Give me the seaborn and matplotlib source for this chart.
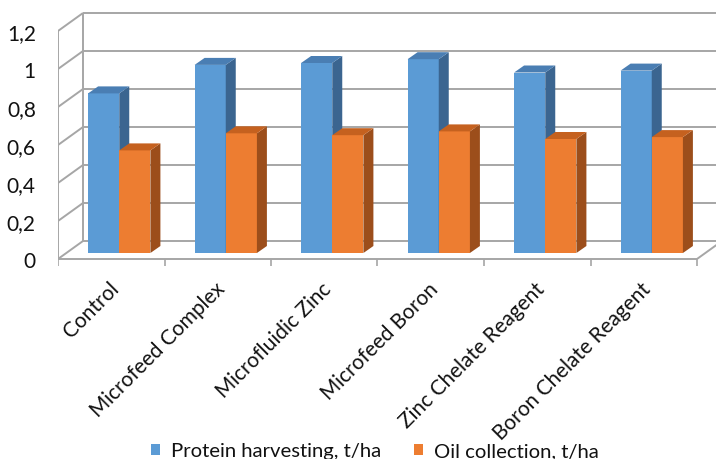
import matplotlib
matplotlib.use("Agg")
import numpy as np
import pandas as pd
import matplotlib.pyplot as plt
import seaborn as sns
from matplotlib.patches import Polygon
from matplotlib.transforms import Affine2D

# ---- data ----
treatments = ["Control", "Microfeed Complex", "Microfluidic Zinc",
              "Microfeed Boron", "Zinc Chelate Reagent", "Boron Chelate Reagent"]
protein = [0.84, 0.99, 1.00, 1.02, 0.95, 0.96]
oil = [0.54, 0.63, 0.62, 0.64, 0.60, 0.61]
series_names = ["Protein harvesting, t/ha", "Oil collection, t/ha"]
y_ticks = [0, 0.2, 0.4, 0.6, 0.8, 1.0, 1.2]
y_tick_labels = ["0", "0,2", "0,4", "0,6", "0,8", "1", "1,2"]

df = pd.DataFrame({
    "treatment": treatments * 2,
    "series": [series_names[0]] * len(protein) + [series_names[1]] * len(oil),
    "value": protein + oil,
})

# ---- style ----
sns.set_theme(style="white")
plt.rcParams["font.family"] = ["Lato", "DejaVu Sans"]

FRONT = ["#5B9BD5", "#ED7D31"]
TOP = ["#4A7EB3", "#C5611F"]
SIDE = ["#3B6590", "#9C4E1B"]
GRID = "#A6A6A6"
TEXT = "#111111"

# ---- geometry (pixels at 100 dpi) ----
W, H = 716, 460
X0 = 58          # left edge of the front floor
CAT = 106.5      # width of one category
Y0 = 260         # front floor line
UNIT = 190       # pixels per 1.0 on the value axis
AX_BOTTOM = 275
WALL = (25, 18)  # back-wall offset (right, up)
BAR_SHIFT = (8, 6)   # front face of bars relative to the front plane
BAR_DEPTH = (10, 7)  # bar depth

fig = plt.figure(figsize=(W / 100, H / 100), dpi=100)
ax = fig.add_axes([X0 / W, (H - AX_BOTTOM) / H, (W - X0) / W, AX_BOTTOM / H])
ax.set_facecolor("none")

sns.barplot(data=df, x="treatment", y="value", hue="series",
            palette=FRONT, saturation=1, width=0.585, gap=0,
            errorbar=None, linewidth=0, ax=ax)

ax.set_xlim(-0.5, -0.5 + (W - X0) / CAT)
ax.set_ylim(-(AX_BOTTOM - Y0) / UNIT, Y0 / UNIT)


def dx(p):
    return p / CAT


def dy(p):
    return p / UNIT


# ---- walls and grid ----
n = len(treatments)
left, right = -0.5, n - 0.5
wx, wy = dx(WALL[0]), dy(WALL[1])
x_end = ax.get_xlim()[1]
line_kw = dict(color=GRID, lw=1.4, solid_capstyle="butt", zorder=1)
for t in y_ticks:
    ax.plot([left, left + wx], [t, t + wy], **line_kw)
    ax.plot([left + wx, x_end], [t + wy, t + wy], **line_kw)
ax.plot([left, left], [0, y_ticks[-1]], **line_kw)
ax.plot([left + wx, left + wx], [wy, y_ticks[-1] + wy], **line_kw)
ax.plot([left, right], [0, 0], **line_kw)
ax.plot([right, right + wx], [0, wy], **line_kw)
ax.vlines(np.arange(left, right + 0.01), -dy(7), 0, color=GRID, lw=1.2, zorder=1)

# ---- 3D bar faces ----
bx, by = dx(BAR_DEPTH[0]), dy(BAR_DEPTH[1])
for k, cont in enumerate(ax.containers):
    tr = ax.transData + Affine2D().translate(*BAR_SHIFT)
    for bar in cont:
        x0, w, h = bar.get_x(), bar.get_width(), bar.get_height()
        bar.set_transform(tr)
        bar.set_zorder(3 + 2 * k)
        side = Polygon([(x0 + w, 0), (x0 + w, h), (x0 + w + bx, h + by), (x0 + w + bx, by)],
                       closed=True, transform=tr, facecolor=SIDE[k],
                       edgecolor="none", zorder=3.5 + 2 * k)
        top = Polygon([(x0, h), (x0 + w, h), (x0 + w + bx, h + by), (x0 + bx, h + by)],
                      closed=True, transform=tr, facecolor=TOP[k],
                      edgecolor="none", zorder=3.5 + 2 * k)
        ax.add_patch(side)
        ax.add_patch(top)

# ---- axes text ----
for s in ax.spines.values():
    s.set_visible(False)
ax.set_xlabel("")
ax.set_ylabel("")
ax.set_yticks(y_ticks)
ax.set_yticklabels(y_tick_labels)
ax.tick_params(axis="y", length=0, pad=16, labelsize=15, labelcolor=TEXT)
ax.set_xticks([])

label_tr = ax.transData + Affine2D().translate(-3, -19)
for i, name in enumerate(treatments):
    ax.text(i, 0, name, transform=label_tr, rotation=45, rotation_mode="anchor",
            ha="right", va="top", fontsize=15, color=TEXT)

sns.move_legend(ax, "center", bbox_to_anchor=(375 / W, 1 - 452 / H),
                bbox_transform=fig.transFigure, ncol=2, frameon=False, title=None,
                fontsize=14.6, handlelength=0.45, handleheight=0.45,
                handletextpad=0.55, columnspacing=1.6, labelcolor=TEXT)

fig.savefig("out.png", dpi=100, facecolor="white")
